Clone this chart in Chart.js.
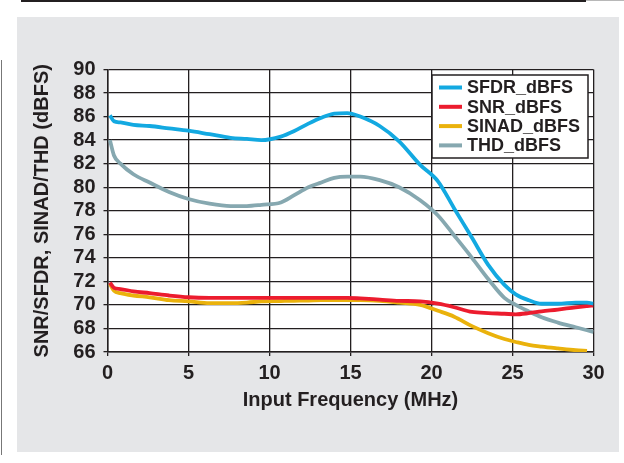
<!DOCTYPE html>
<html>
<head>
<meta charset="utf-8">
<script src="https://cdn.jsdelivr.net/npm/chart.js@4"></script>
<style>
  body { margin: 0; background: #fff; width: 624px; height: 463px; overflow: hidden; position: relative; }
  .topbar { position: absolute; left: 21px; top: 0; width: 565px; height: 2px; background: #231f20; }
  .topbar2 { position: absolute; left: 586px; top: 0; width: 38px; height: 1px; background: #b8b8b8; }
  .panel { position: absolute; left: 17px; top: 17px; width: 602px; height: 435px; background: #e5e6e8; }
  .sideline { position: absolute; left: 1px; top: 60px; width: 1px; height: 395px; background: #777; }
  canvas { position: absolute; left: 0; top: 0; }
</style>
</head>
<body>
<div class="topbar"></div>
<div class="topbar2"></div>
<div class="panel"></div>
<div class="sideline"></div>
<canvas id="adcChart" width="624" height="463"></canvas>
<script>
// input frequency, MHz
const freqMHz = [0.15, 0.4, 0.8, 1.6, 2.6, 3.8, 5, 6.3, 7.6, 8.6, 9.5, 10.7, 11.5, 12.4, 13.2, 14, 14.8, 15.6, 16.8, 18, 19.3, 20.4, 21.4, 22.5, 23.5, 24.5, 25.2, 26, 26.8, 27.8, 28.9, 29.6, 30];

const sfdr = [86.1, 85.6, 85.5, 85.3, 85.2, 85.0, 84.8, 84.5, 84.2, 84.1, 84.0, 84.3, 84.75, 85.4, 85.9, 86.25, 86.3, 86.0, 85.2, 83.9, 81.9, 80.5, 78.2, 75.7, 73.4, 71.7, 70.9, 70.4, 70.1, 70.1, 70.2, 70.2, 70.1];
const snr = [71.9, 71.45, 71.35, 71.15, 71.0, 70.8, 70.65, 70.6, 70.6, 70.6, 70.6, 70.6, 70.6, 70.6, 70.6, 70.6, 70.6, 70.55, 70.45, 70.35, 70.3, 70.1, 69.8, 69.4, 69.3, 69.25, 69.2, 69.3, 69.45, 69.6, 69.8, 69.9, 69.95];
const sinad = [71.8, 71.2, 71.0, 70.8, 70.65, 70.4, 70.3, 70.15, 70.15, 70.2, 70.3, 70.33, 70.35, 70.37, 70.4, 70.4, 70.4, 70.4, 70.35, 70.2, 70.0, 69.5, 69.0, 68.2, 67.6, 67.1, 66.85, 66.6, 66.45, 66.3, 66.15, 66.1, null];
const thd = [84.0, 82.7, 82.0, 81.1, 80.4, 79.6, 79.0, 78.6, 78.4, 78.4, 78.5, 78.7, 79.3, 80.0, 80.4, 80.8, 80.9, 80.9, 80.6, 80.0, 78.9, 77.6, 75.9, 74.0, 72.2, 70.6, 70.0, 69.45, 68.95, 68.5, 68.1, 67.85, 67.7];

const seriesNames = ["SFDR_dBFS", "SNR_dBFS", "SINAD_dBFS", "THD_dBFS"];
const seriesColors = ["#13a9e1", "#ec1c2e", "#eab20c", "#86a8b0"];

const ink = "#231f20";
const fontFam = "'Liberation Sans', Arial, sans-serif";

function pts(vals) {
  return freqMHz.map((f, i) => ({ x: f, y: vals[i] }));
}

// white plot background
const plotBg = {
  id: "plotBg",
  beforeDraw(chart) {
    const a = chart.chartArea;
    const ctx = chart.ctx;
    ctx.save();
    ctx.fillStyle = "#fff";
    ctx.fillRect(a.left, a.top, a.right - a.left, a.bottom - a.top);
    ctx.restore();
  }
};

// boxed legend at top right of plot
const boxLegend = {
  id: "boxLegend",
  afterDraw(chart) {
    const ctx = chart.ctx;
    const x0 = 432, y0 = 75, w = 156, h = 83;
    ctx.save();
    ctx.fillStyle = "#fff";
    ctx.fillRect(x0, y0, w, h);
    ctx.strokeStyle = ink;
    ctx.lineWidth = 1.5;
    ctx.strokeRect(x0, y0, w, h);
    ctx.font = "bold 18px " + fontFam;
    ctx.textBaseline = "middle";
    chart.data.datasets.forEach((ds, i) => {
      const y = 87.5 + i * 19.3;
      ctx.strokeStyle = ds.borderColor;
      ctx.lineWidth = 4;
      ctx.beginPath();
      ctx.moveTo(439, y);
      ctx.lineTo(462, y);
      ctx.stroke();
      ctx.fillStyle = ink;
      ctx.fillText(ds.label, 467, y + 1);
    });
    ctx.restore();
  }
};

const ctx = document.getElementById("adcChart").getContext("2d");
const chart = new Chart(ctx, {
  type: "line",
  data: {
    datasets: [sfdr, snr, sinad, thd].map((vals, i) => ({
      label: seriesNames[i],
      data: pts(vals),
      borderColor: seriesColors[i],
      borderWidth: 3.8,
      pointRadius: 0,
      fill: false,
      cubicInterpolationMode: "monotone",
      spanGaps: false
    }))
  },
  options: {
    responsive: false,
    animation: false,
    layout: { padding: { left: 30, right: 30.5, top: 69.5, bottom: 51 } },
    plugins: {
      legend: { display: false },
      tooltip: { enabled: false }
    },
    scales: {
      x: {
        type: "linear",
        min: 0, max: 30,
        afterFit(s) { s.height = 60; },
        ticks: {
          stepSize: 5,
          autoSkip: false,
          maxRotation: 0,
          padding: 5,
          color: ink,
          font: { family: fontFam, size: 20, weight: "bold" }
        },
        grid: { color: ink, lineWidth: 1.3, tickLength: 4 },
        border: { color: ink, width: 1.5 },
        title: {
          display: true,
          text: "Input Frequency (MHz)",
          color: ink,
          padding: 0,
          font: { family: fontFam, size: 20, weight: "bold" }
        }
      },
      y: {
        min: 66, max: 90,
        afterFit(s) { s.width = 77.5; },
        ticks: {
          stepSize: 2,
          autoSkip: false,
          padding: 8,
          color: ink,
          font: { family: fontFam, size: 20, weight: "bold" }
        },
        grid: { color: ink, lineWidth: 1.3, tickLength: 4 },
        border: { color: ink, width: 1.5 },
        title: {
          display: true,
          text: "SNR/SFDR, SINAD/THD (dBFS)",
          color: ink,
          padding: 0,
          font: { family: fontFam, size: 20, weight: "bold" }
        }
      }
    }
  },
  plugins: [plotBg, boxLegend]
});
</script>
</body>
</html>
